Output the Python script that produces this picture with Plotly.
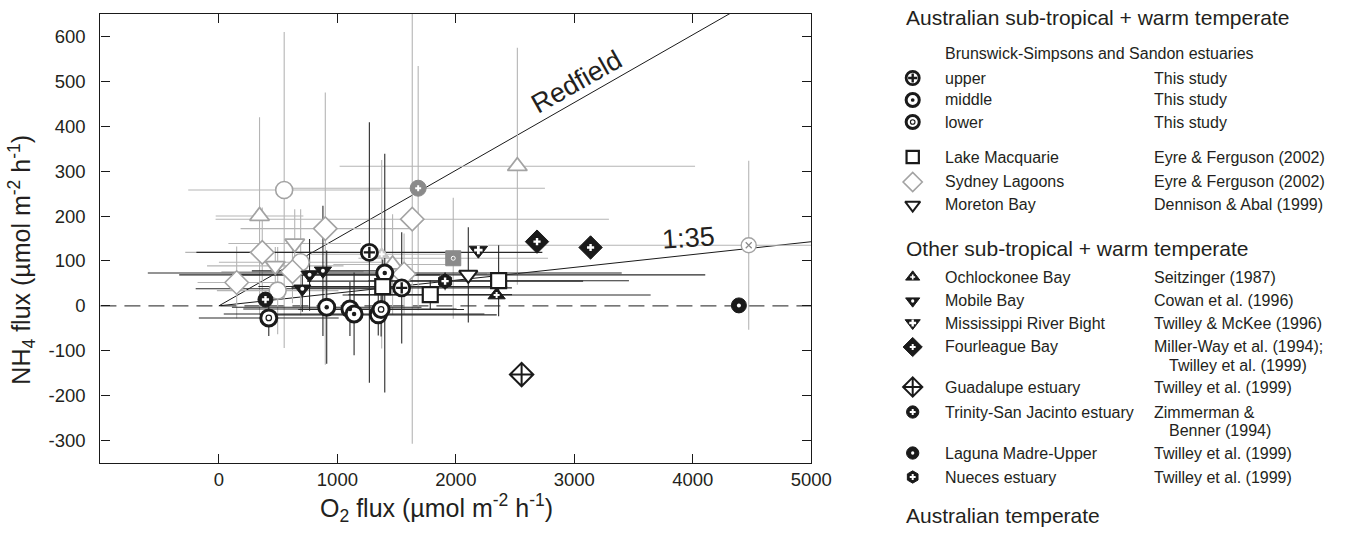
import plotly.graph_objects as go

# ---------------- DATA (O2 flux, NH4 flux, +/- errors) ----------------
UPPER_O2 = [1270, 1543]
UPPER_NH4 = [119, 40]
UPPER_O2_ERR = [1460, 930]
UPPER_NH4_ERR = [290, 124]

MIDDLE_O2 = [1400, 910, 1106, 1141, 1345]
MIDDLE_NH4 = [73, -3, -7, -18, -20]
MIDDLE_O2_ERR = [2000, 800, 900, 1100, 1000]
MIDDLE_NH4_ERR = [266, 126, 60, 92, 46]

LOWER_O2 = [421, 1369]
LOWER_NH4 = [-27, -8]
LOWER_O2_ERR = [590, 700]
LOWER_NH4_ERR = [40, 60]

LAKE_O2 = [1383, 1784, 2361]
LAKE_NH4 = [43, 25, 56]
LAKE_O2_ERR = [1050, 690, 1100]
LAKE_NH4_ERR = [60, 32, 79]

SYDNEY_O2 = [898, 1632, 366, 621, 150, 1563]
SYDNEY_NH4 = [172, 193, 119, 76, 52, 71]
SYDNEY_O2_ERR = [715, 1660, 650, 600, 330, 700]
SYDNEY_NH4_ERR = [303, 500, 100, 70, 80, 90]

MORETON_O2 = [2105]
MORETON_NH4 = [69]
MORETON_O2_ERR = [2000]
MORETON_NH4_ERR = [106]

OCHLOCKONEE_O2 = [2344]
OCHLOCKONEE_NH4 = [24]
OCHLOCKONEE_O2_ERR = [1300]
OCHLOCKONEE_NH4_ERR = [0]

MOBILE_O2 = [765, 878, 704]
MOBILE_NH4 = [69, 78, 38]
MOBILE_O2_ERR = [1100, 600, 900]
MOBILE_NH4_ERR = [80, 145, 51]

MISSISSIPPI_O2 = [2190]
MISSISSIPPI_NH4 = [124]

FOURLEAGUE_O2 = [2685, 3137]
FOURLEAGUE_NH4 = [143, 130]

GUADALUPE_O2 = [2555]
GUADALUPE_NH4 = [-153]

TRINITY_O2 = [393]
TRINITY_NH4 = [14]

LAGUNA_O2 = [4389]
LAGUNA_NH4 = [1]

NUECES_O2 = [1909]
NUECES_NH4 = [55]
NUECES_O2_ERR = [1165]
NUECES_NH4_ERR = [20]

# Australian temperate (grey symbols)
TEMP_CIRCLE_O2 = [551, 690, 496]
TEMP_CIRCLE_NH4 = [258, 97, 34]
TEMP_CIRCLE_O2_ERR = [810, 690, 513]
TEMP_CIRCLE_NH4_ERR = [352, 118, 97]

TEMP_TRIUP_O2 = [343, 2519, 1466]
TEMP_TRIUP_NH4 = [200, 311, 92]
TEMP_TRIUP_O2_ERR = [370, 1500, 500]
TEMP_TRIUP_NH4_ERR = [220, 264, 112]

TEMP_TRIDOWN_O2 = [640, 476]
TEMP_TRIDOWN_NH4 = [139, 89]
TEMP_TRIDOWN_O2_ERR = [560, 576]
TEMP_TRIDOWN_NH4_ERR = [76, 42]

TEMP_CIRCDOT_O2 = [1682]
TEMP_CIRCDOT_NH4 = [262]
TEMP_CIRCDOT_O2_ERR = [1070]
TEMP_CIRCDOT_NH4_ERR = [272]

TEMP_SQUARE_O2 = [1978]
TEMP_SQUARE_NH4 = [106]
TEMP_SQUARE_O2_ERR = [800]
TEMP_SQUARE_NH4_ERR = [135]

TEMP_CIRCX_O2 = [4472]
TEMP_CIRCX_NH4 = [135]
TEMP_CIRCX_O2_ERR = [2200]
TEMP_CIRCX_NH4_ERR = [188]

TEMP_LIGHT_O2 = [1374]
TEMP_LIGHT_NH4 = [115]
TEMP_LIGHT_O2_ERR = [600]
TEMP_LIGHT_NH4_ERR = [210]

REDFIELD_RATIO = 16 / 106
RATIO_1_35 = 1 / 35
RATIO_LINE_O2 = [0, 5000]

X_TICKS = [0, 1000, 2000, 3000, 4000, 5000]
Y_TICKS = [-300, -200, -100, 0, 100, 200, 300, 400, 500, 600]
Y_TICK_TEXT = ["-300", "-200", "-100", "0", "100", "200", "300", "400", "500", "600"]

# ---------------- STYLES ----------------
BLK = "#1a1a1a"
GRY = "#a3a3a3"
DGRY = "#8a8a8a"
ERR_BLK = "#2a2a2a"
ERR_GRY = "#b5b5b5"
FONT = "Liberation Sans, Arial, Helvetica, sans-serif"
TXT = "#231f20"

STYLES = {
    "upper": (dict(symbol="circle", size=16, color="white", line=dict(color=BLK, width=2.8)),
              dict(symbol="cross-thin-open", size=8, color=BLK, line=dict(color=BLK, width=2.4))),
    "middle": (dict(symbol="circle", size=16, color="white", line=dict(color=BLK, width=3)),
               dict(symbol="circle", size=4.5, color=BLK, line=dict(width=0))),
    "lower": (dict(symbol="circle", size=16, color="white", line=dict(color=BLK, width=3)),
              dict(symbol="circle-open", size=5.5, color=BLK, line=dict(color=BLK, width=1.2))),
    "lake": (dict(symbol="square", size=15, color="white", line=dict(color=BLK, width=2.2)), None),
    "sydney": (dict(symbol="diamond", size=18, color="white", line=dict(color=GRY, width=1.6)), None),
    "moreton": (dict(symbol="triangle-down", size=16, color="white", line=dict(color=BLK, width=2)), None),
    "ochlockonee": (dict(symbol="triangle-up", size=15, color=BLK, line=dict(color=BLK, width=1)),
                    dict(symbol="cross", size=5, color="white", line=dict(width=0))),
    "mobile": (dict(symbol="triangle-down", size=15, color=BLK, line=dict(color=BLK, width=1)),
               dict(symbol="circle", size=4, color="white", line=dict(width=0))),
    "mississippi": (dict(symbol="triangle-down", size=16, color=BLK, line=dict(color=BLK, width=1)),
                    dict(symbol="cross", size=7, color="white", line=dict(width=0))),
    "fourleague": (dict(symbol="diamond", size=18, color=BLK, line=dict(color=BLK, width=1)),
                   dict(symbol="cross", size=6, color="white", line=dict(width=0))),
    "guadalupe": (dict(symbol="diamond-cross", size=18, color="white", line=dict(color=BLK, width=2)), None),
    "trinity": (dict(symbol="circle", size=15, color=BLK, line=dict(color=BLK, width=1)),
                dict(symbol="cross", size=6, color="white", line=dict(width=0))),
    "laguna": (dict(symbol="circle", size=15, color=BLK, line=dict(color=BLK, width=1)),
               dict(symbol="circle", size=4, color="white", line=dict(width=0))),
    "nueces": (dict(symbol="hexagon", size=15, color=BLK, line=dict(color=BLK, width=1)),
               dict(symbol="cross", size=6, color="white", line=dict(width=0))),
    "t_circle": (dict(symbol="circle", size=17, color="white", line=dict(color=GRY, width=1.6)), None),
    "t_triup": (dict(symbol="triangle-up", size=17, color="white", line=dict(color=GRY, width=1.8)), None),
    "t_tridown": (dict(symbol="triangle-down", size=17, color="white", line=dict(color=GRY, width=1.8)), None),
    "t_circdot": (dict(symbol="circle", size=16, color=DGRY, line=dict(color=DGRY, width=1)),
                  dict(symbol="cross", size=5, color="white", line=dict(width=0))),
    "t_square": (dict(symbol="square", size=15, color=DGRY, line=dict(color=DGRY, width=1)),
                 dict(symbol="circle-open", size=4, color="white", line=dict(color="white", width=1))),
    "t_circx": (dict(symbol="circle", size=15, color="white", line=dict(color=GRY, width=1.4)),
                dict(symbol="x-thin-open", size=6, color=DGRY, line=dict(color=DGRY, width=1.2))),
    "t_light": (dict(symbol="triangle-up", size=13, color="#c4c4c4", line=dict(color="#c4c4c4", width=1)),
                dict(symbol="cross", size=5, color="white", line=dict(width=0))),
}

SERIES = [
    # key, x, y, xerr, yerr, err colour
    ("t_circle", TEMP_CIRCLE_O2, TEMP_CIRCLE_NH4, TEMP_CIRCLE_O2_ERR, TEMP_CIRCLE_NH4_ERR, ERR_GRY),
    ("t_triup", TEMP_TRIUP_O2, TEMP_TRIUP_NH4, TEMP_TRIUP_O2_ERR, TEMP_TRIUP_NH4_ERR, ERR_GRY),
    ("t_tridown", TEMP_TRIDOWN_O2, TEMP_TRIDOWN_NH4, TEMP_TRIDOWN_O2_ERR, TEMP_TRIDOWN_NH4_ERR, ERR_GRY),
    ("t_circdot", TEMP_CIRCDOT_O2, TEMP_CIRCDOT_NH4, TEMP_CIRCDOT_O2_ERR, TEMP_CIRCDOT_NH4_ERR, ERR_GRY),
    ("t_square", TEMP_SQUARE_O2, TEMP_SQUARE_NH4, TEMP_SQUARE_O2_ERR, TEMP_SQUARE_NH4_ERR, ERR_GRY),
    ("t_circx", TEMP_CIRCX_O2, TEMP_CIRCX_NH4, TEMP_CIRCX_O2_ERR, TEMP_CIRCX_NH4_ERR, ERR_GRY),
    ("t_light", TEMP_LIGHT_O2, TEMP_LIGHT_NH4, TEMP_LIGHT_O2_ERR, TEMP_LIGHT_NH4_ERR, ERR_GRY),
    ("sydney", SYDNEY_O2, SYDNEY_NH4, SYDNEY_O2_ERR, SYDNEY_NH4_ERR, ERR_GRY),
    ("upper", UPPER_O2, UPPER_NH4, UPPER_O2_ERR, UPPER_NH4_ERR, ERR_BLK),
    ("middle", MIDDLE_O2, MIDDLE_NH4, MIDDLE_O2_ERR, MIDDLE_NH4_ERR, ERR_BLK),
    ("lower", LOWER_O2, LOWER_NH4, LOWER_O2_ERR, LOWER_NH4_ERR, ERR_BLK),
    ("lake", LAKE_O2, LAKE_NH4, LAKE_O2_ERR, LAKE_NH4_ERR, ERR_BLK),
    ("moreton", MORETON_O2, MORETON_NH4, MORETON_O2_ERR, MORETON_NH4_ERR, ERR_BLK),
    ("ochlockonee", OCHLOCKONEE_O2, OCHLOCKONEE_NH4, OCHLOCKONEE_O2_ERR, OCHLOCKONEE_NH4_ERR, ERR_BLK),
    ("mobile", MOBILE_O2, MOBILE_NH4, MOBILE_O2_ERR, MOBILE_NH4_ERR, ERR_BLK),
    ("mississippi", MISSISSIPPI_O2, MISSISSIPPI_NH4, None, None, ERR_BLK),
    ("fourleague", FOURLEAGUE_O2, FOURLEAGUE_NH4, None, None, ERR_BLK),
    ("guadalupe", GUADALUPE_O2, GUADALUPE_NH4, None, None, ERR_BLK),
    ("trinity", TRINITY_O2, TRINITY_NH4, None, None, ERR_BLK),
    ("laguna", LAGUNA_O2, LAGUNA_NH4, None, None, ERR_BLK),
    ("nueces", NUECES_O2, NUECES_NH4, NUECES_O2_ERR, NUECES_NH4_ERR, ERR_BLK),
]

LEGEND_ROWS = [
    ("upper", "upper", "This study", 78),
    ("middle", "middle", "This study", 100),
    ("lower", "lower", "This study", 122),
    ("lake", "Lake Macquarie", "Eyre & Ferguson (2002)", 157),
    ("sydney", "Sydney Lagoons", "Eyre & Ferguson (2002)", 182),
    ("moreton", "Moreton Bay", "Dennison & Abal (1999)", 205),
    ("ochlockonee", "Ochlockonee Bay", "Seitzinger (1987)", 277),
    ("mobile", "Mobile Bay", "Cowan et al. (1996)", 301),
    ("mississippi", "Mississippi River Bight", "Twilley & McKee (1996)", 323),
    ("fourleague", "Fourleague Bay", "Miller-Way et al. (1994);", 347),
    ("guadalupe", "Guadalupe estuary", "Twilley et al. (1999)", 387),
    ("trinity", "Trinity-San Jacinto estuary", "Zimmerman &", 412),
    ("laguna", "Laguna Madre-Upper", "Twilley et al. (1999)", 453),
    ("nueces", "Nueces estuary", "Twilley et al. (1999)", 477),
]
LEGEND_EXTRA = [("Twilley et al. (1999)", 1185, 365), ("Benner (1994)", 1185, 430)]
LEGEND_HEADINGS = [("Australian sub-tropical + warm temperate", 918, 17),
                   ("Other sub-tropical + warm temperate", 918, 248),
                   ("Australian temperate", 918, 515)]
LEGEND_SUBHEAD = ("Brunswick-Simpsons and Sandon estuaries", 958, 54)

# ---------------- LAYOUT GEOMETRY (pixels) ----------------
W, H = 1361, 533
PLOT_L, PLOT_R, PLOT_T, PLOT_B = 102, 824, 14, 463


def pxx(px):
    return px / W


def pxy(py):
    return (H - py) / H


fig = go.Figure()


def add_err(x, y, ex, ey, color, xa="x", ya="y"):
    kw = {}
    if ex is not None:
        kw["error_x"] = dict(type="data", array=ex, color=color, thickness=1.1, width=0)
    if ey is not None:
        kw["error_y"] = dict(type="data", array=ey, color=color, thickness=1.1, width=0)
    fig.add_trace(go.Scatter(x=x, y=y, mode="markers", xaxis=xa, yaxis=ya,
                             marker=dict(size=1, color="rgba(0,0,0,0)"),
                             showlegend=False, hoverinfo="skip", **kw))


def add_marker(key, x, y, xa="x", ya="y", scale=1.0, clip=True):
    base, inner = STYLES[key]
    for m in (base, inner):
        if m is None:
            continue
        m = dict(m)
        m["size"] = m["size"] * scale
        fig.add_trace(go.Scatter(x=x, y=y, mode="markers", xaxis=xa, yaxis=ya,
                                 marker=m, showlegend=False, cliponaxis=clip,
                                 hoverinfo="skip"))


# ratio lines (Redfield and 1:35) through the origin
fig.add_trace(go.Scatter(x=RATIO_LINE_O2, y=[v * REDFIELD_RATIO for v in RATIO_LINE_O2],
                         mode="lines", line=dict(color=BLK, width=1), showlegend=False, hoverinfo="skip"))
fig.add_trace(go.Scatter(x=RATIO_LINE_O2, y=[v * RATIO_1_35 for v in RATIO_LINE_O2],
                         mode="lines", line=dict(color=BLK, width=1), showlegend=False, hoverinfo="skip"))

# error bars first (all behind markers)
for key, x, y, ex, ey, ec in SERIES:
    if ex is not None or ey is not None:
        add_err(x, y, ex, ey, ec)
# markers
for key, x, y, ex, ey, ec in SERIES:
    add_marker(key, x, y)

# legend symbols on a full-figure pixel-scaled helper axis
for key, lab, cite, py in LEGEND_ROWS:
    add_marker(key, [927], [py], xa="x2", ya="y2", scale=0.82, clip=False)

annots = []
ROW_FONT = dict(size=16, family=FONT, color=TXT)
for key, lab, cite, py in LEGEND_ROWS:
    annots.append(dict(x=pxx(958), y=pxy(py), xref="paper", yref="paper", text=lab,
                       showarrow=False, xanchor="left", yanchor="middle", font=ROW_FONT))
    annots.append(dict(x=pxx(1170), y=pxy(py), xref="paper", yref="paper", text=cite,
                       showarrow=False, xanchor="left", yanchor="middle", font=ROW_FONT))
for txt, px, py in LEGEND_EXTRA:
    annots.append(dict(x=pxx(px), y=pxy(py), xref="paper", yref="paper", text=txt,
                       showarrow=False, xanchor="left", yanchor="middle", font=ROW_FONT))
for txt, px, py in LEGEND_HEADINGS:
    annots.append(dict(x=pxx(px), y=pxy(py), xref="paper", yref="paper", text=txt,
                       showarrow=False, xanchor="left", yanchor="middle",
                       font=dict(size=21, family=FONT, color=TXT)))
annots.append(dict(x=pxx(LEGEND_SUBHEAD[1]), y=pxy(LEGEND_SUBHEAD[2]), xref="paper", yref="paper",
                   text=LEGEND_SUBHEAD[0], showarrow=False, xanchor="left", yanchor="middle",
                   font=dict(size=16, family=FONT, color=TXT)))

# line labels
annots.append(dict(x=3017, y=499, xref="x", yref="y", text="Redfield", showarrow=False,
                   textangle=-29.5, font=dict(size=27, family=FONT, color=TXT)))
annots.append(dict(x=3965, y=151, xref="x", yref="y", text="1:35", showarrow=False,
                   textangle=-4, font=dict(size=27, family=FONT, color=TXT)))

# axis titles
annots.append(dict(x=pxx(443), y=pxy(508), xref="paper", yref="paper",
                   text="O<sub>2</sub> flux (µmol m<sup>-2</sup> h<sup>-1</sup>)", showarrow=False,
                   xanchor="center", yanchor="middle", font=dict(size=25, family=FONT, color=TXT)))
annots.append(dict(x=pxx(22), y=pxy(260), xref="paper", yref="paper", textangle=-90,
                   text="NH<sub>4</sub> flux (µmol m<sup>-2</sup> h<sup>-1</sup>)", showarrow=False,
                   xanchor="center", yanchor="middle", font=dict(size=25, family=FONT, color=TXT)))

axis_common = dict(showgrid=False, zeroline=False, showline=True, linecolor=BLK, linewidth=1.2,
                   ticks="inside", ticklen=9, tickwidth=1.2, tickcolor=BLK, mirror="ticks",
                   tickfont=dict(size=18.5, family=FONT, color=TXT))

fig.update_layout(
    width=W, height=H, autosize=False,
    margin=dict(l=0, r=0, t=0, b=0, pad=0),
    paper_bgcolor="white", plot_bgcolor="rgba(0,0,0,0)",
    showlegend=False,
    xaxis=dict(domain=[PLOT_L / W, PLOT_R / W], range=[-1000, 5000], tickvals=X_TICKS,
               ticktext=[str(v) for v in X_TICKS], anchor="y", **axis_common),
    yaxis=dict(domain=[(H - PLOT_B) / H, (H - PLOT_T) / H], range=[-350, 650], tickvals=Y_TICKS,
               ticktext=Y_TICK_TEXT, anchor="x", ticklabelstandoff=10, **axis_common),
    xaxis2=dict(domain=[0, 1], range=[0, W], visible=False, anchor="y2", fixedrange=True),
    yaxis2=dict(domain=[0, 1], range=[H, 0], visible=False, anchor="x2", fixedrange=True),
    annotations=annots,
    shapes=[dict(type="line", xref="x domain", yref="y", x0=0, x1=1, y0=0, y1=0,
                 line=dict(color="#4a4a4a", width=1.4, dash="16px,8px"), layer="below")],
)

POST = (
    "document.documentElement.style.margin='0px';"
    "document.documentElement.style.overflow='hidden';"
    "document.body.style.margin='0px';document.body.style.overflow='hidden';"
)
fig.write_html("out.html", config={"responsive": False, "displayModeBar": False},
               post_script=POST)
